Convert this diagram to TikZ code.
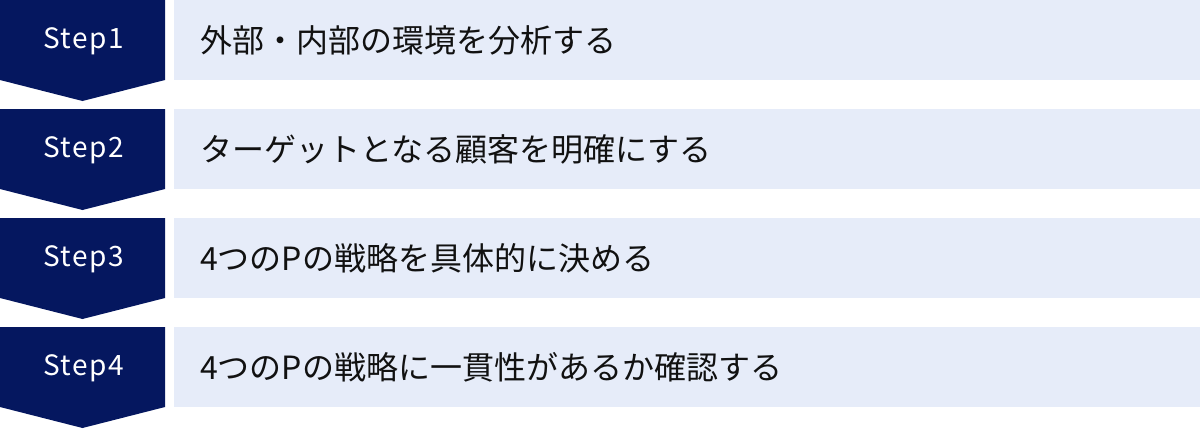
\documentclass[tikz,border=0pt]{standalone}
\usepackage{fontspec}
\setmainfont{Noto Sans CJK JP}
\newfontfamily\stepfont[LetterSpace=5]{Noto Sans CJK JP}
\definecolor{navy}{HTML}{05175F}
\definecolor{barblue}{HTML}{E6ECF9}
\definecolor{txt}{HTML}{111111}
\tikzset{
  stepshape/.style={fill=navy},
  barshape/.style={fill=barblue},
  steplabel/.style={text=white,font=\stepfont\fontsize{28}{32}\selectfont,inner sep=0pt,anchor=center},
  barlabel/.style={text=txt,font=\fontsize{32}{36}\selectfont,inner sep=0pt,anchor=west}
}
\begin{document}
\begin{tikzpicture}[x=1pt,y=-1pt]
\useasboundingbox (0,0) rectangle (1200,429);
\foreach \i/\s/\t in {0/Step1/外部・内部の環境を分析する,1/Step2/ターゲットとなる顧客を明確にする,2/Step3/4つのPの戦略を具体的に決める,3/Step4/4つのPの戦略に一貫性があるか確認する}{
  \pgfmathsetmacro{\top}{109*\i}
  \fill[stepshape] (0,\top) -- (165,\top) -- (165,\top+80) -- (82.5,\top+101) -- (0,\top+80) -- cycle;
  \fill[barshape] (174,\top) rectangle (1200,\top+80);
  \node[steplabel] (s\i) at (83.5,\top+41) {\s};
  \node[barlabel] (t\i) at (200,\top+40) {\t};
}
\end{tikzpicture}
\end{document}
